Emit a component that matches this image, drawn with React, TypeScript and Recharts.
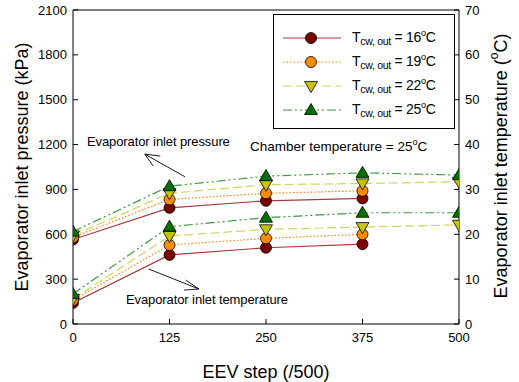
import React from 'react';
import { ComposedChart, Line, XAxis, YAxis, ReferenceLine } from 'recharts';

// EEV step (x axis)
const steps = [0, 125, 250, 375, 500];

// evaporator inlet pressure (kPa), per cooling water outlet temp
const p16 = [565, 777, 824, 840, null];
const p19 = [580, 833, 874, 891, null];
const p22 = [592, 874, 931, 940, 951];
const p25 = [618, 922, 989, 1011, 996];

// evaporator inlet temperature (degC)
const t16 = [4.7, 15.4, 17.0, 17.8, null];
const t19 = [5.3, 17.6, 19.1, 20.0, null];
const t22 = [5.6, 19.6, 21.1, 21.6, 22.1];
const t25 = [6.7, 21.7, 23.7, 24.8, 24.8];

const pTicks = [0, 300, 600, 900, 1200, 1500, 1800, 2100];
const tTicks = [0, 10, 20, 30, 40, 50, 60, 70];

const legendTemps = ['16', '19', '22', '25'];

const data = steps.map((s, i) => ({
  step: s,
  p16: p16[i], p19: p19[i], p22: p22[i], p25: p25[i],
  t16: t16[i], t19: t19[i], t22: t22[i], t25: t25[i],
}));

const FONT = '"Liberation Sans", Arial, sans-serif';

const series = [
  { key: '16', line: '#a83a3a', fill: '#7a0000', dash: undefined, shape: 'circle' },
  { key: '19', line: '#ff8000', fill: '#ff8c00', dash: '1.5 2', shape: 'circle' },
  { key: '22', line: '#d4d45a', fill: '#c8c400', dash: '9 4', shape: 'down' },
  { key: '25', line: '#3a9a3a', fill: '#007000', dash: '9 3 2 3 2 3', shape: 'up' },
];

function Marker({ cx, cy, shape, fill }: any) {
  if (cx == null || cy == null || Number.isNaN(cx) || Number.isNaN(cy)) return <g />;
  if (shape === 'circle') {
    return <circle cx={cx} cy={cy} r={5.5} fill={fill} stroke="#000" strokeWidth={0.8} />;
  }
  const s = 6.5;
  if (shape === 'up') {
    return <polygon points={`${cx},${cy - s} ${cx - s},${cy + s * 0.7} ${cx + s},${cy + s * 0.7}`} fill={fill} stroke="#000" strokeWidth={0.8} />;
  }
  return <polygon points={`${cx},${cy + s} ${cx - s},${cy - s * 0.7} ${cx + s},${cy - s * 0.7}`} fill={fill} stroke="#000" strokeWidth={0.8} />;
}

function LegendIcon({ s }: any) {
  return (
    <svg width={60} height={16} style={{ display: 'block', flexShrink: 0 }}>
      <line x1={1} y1={8} x2={59} y2={8} stroke={s.line} strokeWidth={1.2} strokeDasharray={s.dash} />
      <Marker cx={29} cy={8} shape={s.shape} fill={s.fill} />
    </svg>
  );
}

function RightLabel() {
  const x = 501;
  const y = 166;
  return (
    <text x={x} y={y} transform={`rotate(-90 ${x} ${y})`} textAnchor="middle" dominantBaseline="central"
      fontFamily={FONT} fontSize={18} fill="#000">
      Evaporator inlet temperature (<tspan fontSize={12} dy={-7}>o</tspan><tspan dy={7}>C)</tspan>
    </text>
  );
}

// annotation arrows in data coordinates (pressure axis)
const arrowP = [
  [{ x: 145, y: 985 }, { x: 93, y: 1136 }],
  [{ x: 93, y: 1136 }, { x: 113, y: 1123 }],
  [{ x: 93, y: 1136 }, { x: 104, y: 1056 }],
];
const arrowT = [
  [{ x: 98, y: 368 }, { x: 163, y: 234 }],
  [{ x: 163, y: 234 }, { x: 146, y: 294 }],
  [{ x: 163, y: 234 }, { x: 144, y: 227 }],
];

export default function App() {
  const tickStyle = { fill: '#000', fontSize: 13, fontFamily: FONT };
  return (
    <div style={{ position: 'fixed', left: 0, top: 0, width: 519, height: 382, background: '#fff', fontFamily: FONT }}>
      <ComposedChart width={519} height={382} data={data} margin={{ top: 10, right: 0, bottom: 0, left: 0 }}>
        <XAxis dataKey="step" type="number" domain={[0, 500]} ticks={steps} height={58}
          tick={tickStyle} tickSize={-5} tickMargin={14} stroke="#000" allowDataOverflow
          label={{ value: 'EEV step (/500)', position: 'insideBottom', offset: 4, fontSize: 18, fill: '#000', fontFamily: FONT }} />
        <YAxis yAxisId="p" domain={[0, 2100]} ticks={pTicks} width={73} tick={tickStyle}
          tickSize={-5} tickMargin={11} stroke="#000" interval={0}
          label={{ value: 'Evaporator inlet pressure (kPa)', angle: -90, position: 'insideLeft', offset: 22, fontSize: 18, fill: '#000', fontFamily: FONT, style: { textAnchor: 'middle' } }} />
        <YAxis yAxisId="t" orientation="right" domain={[0, 70]} ticks={tTicks} width={60} tick={tickStyle}
          tickSize={-5} tickMargin={11} stroke="#000" interval={0}
          label={<RightLabel />} />
        <ReferenceLine yAxisId="p" y={2100} stroke="#000" />
        {arrowP.map((seg, i) => (
          <ReferenceLine key={'ap' + i} yAxisId="p" segment={seg} stroke="#000" strokeWidth={0.9} />
        ))}
        {arrowT.map((seg, i) => (
          <ReferenceLine key={'at' + i} yAxisId="p" segment={seg} stroke="#000" strokeWidth={0.9} />
        ))}
        {series.map((s) => (
          <Line key={'p' + s.key} yAxisId="p" dataKey={'p' + s.key} stroke={s.line} strokeWidth={1.2}
            strokeDasharray={s.dash} isAnimationActive={false} legendType="none"
            dot={(props: any) => <Marker key={'pd' + s.key + props.index} cx={props.cx} cy={props.cy} shape={s.shape} fill={s.fill} />}
            activeDot={false} />
        ))}
        {series.map((s) => (
          <Line key={'t' + s.key} yAxisId="t" dataKey={'t' + s.key} stroke={s.line} strokeWidth={1.2}
            strokeDasharray={s.dash} isAnimationActive={false} legendType="none"
            dot={(props: any) => <Marker key={'td' + s.key + props.index} cx={props.cx} cy={props.cy} shape={s.shape} fill={s.fill} />}
            activeDot={false} />
        ))}
      </ComposedChart>

      <div style={{ position: 'absolute', left: 87, top: 134, fontSize: 13, lineHeight: '16px', letterSpacing: -0.1 }}>Evaporator inlet pressure</div>
      <div style={{ position: 'absolute', left: 250, top: 133, fontSize: 13.5, lineHeight: '18px' }}>
        Chamber temperature = 25<sup style={{ fontSize: 9 }}>o</sup>C
      </div>
      <div style={{ position: 'absolute', left: 126, top: 292, fontSize: 13, lineHeight: '16px', letterSpacing: -0.1 }}>Evaporator inlet temperature</div>

      <div style={{ position: 'absolute', left: 273, top: 14, width: 180, height: 113, border: '1px solid #000', background: '#fff' }}>
        {series.map((s, i) => (
          <div key={s.key} style={{ position: 'absolute', left: 8, top: 13 + i * 24, display: 'flex', alignItems: 'center', whiteSpace: 'nowrap' }}>
            <LegendIcon s={s} />
            <span style={{ marginLeft: 10, fontSize: 14, letterSpacing: -0.3 }}>
              T<sub style={{ fontSize: 10.5 }}>cw, out</sub> = {legendTemps[i]}<sup style={{ fontSize: 9 }}>o</sup>C
            </span>
          </div>
        ))}
      </div>
    </div>
  );
}
